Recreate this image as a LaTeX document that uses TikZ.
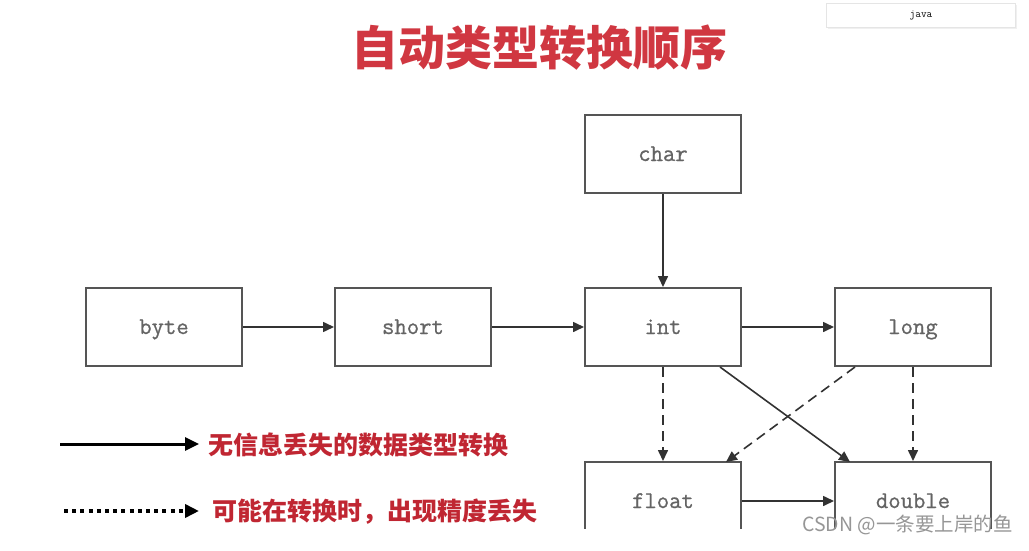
\documentclass[tikz,border=0pt]{standalone}
\usepackage{fontspec}
\newfontfamily\cjk{Noto Sans CJK SC}
\newfontfamily\boxfont[FakeBold=0.8]{Latin Modern Mono}
\usetikzlibrary{arrows.meta}
\definecolor{boxgray}{RGB}{85,85,85}
\definecolor{linegray}{RGB}{50,50,50}
\definecolor{textgray}{RGB}{100,100,100}
\definecolor{titlered}{RGB}{208,55,65}
\definecolor{legred}{RGB}{192,38,50}
\definecolor{wmgray}{RGB}{150,150,150}
\begin{document}
\begin{tikzpicture}[x=1pt,y=-1pt,
  tbox/.style={draw=boxgray, line width=2pt, minimum width=156pt, minimum height=78pt, inner sep=0pt,
    text height=16pt, text depth=2pt,
    font=\fontsize{24}{24}\selectfont\boxfont, text=textgray},
  arr/.style={draw=linegray, line width=1.6pt, -{Triangle[length=11pt,width=10pt]}},
  darr/.style={arr, dash pattern=on 10pt off 6pt},
  legtext/.style={anchor=west, inner sep=0pt, text=legred, font=\cjk\bfseries\fontsize{25}{25}\selectfont},
]
\useasboundingbox (0,0) rectangle (1029,551);
\fill[white] (0,0) rectangle (1029,551);

% top-right tab
\fill[gray!12] (828,5) rectangle (1017,29);
\node[draw=gray!20, fill=white, line width=0.6pt, minimum width=189pt, minimum height=24pt, inner sep=0pt,
  font=\fontsize{11}{11}\selectfont\ttfamily] (java) at (921,15) {java};

% title
\node[text=titlered, font=\cjk\bfseries\fontsize{47}{47}\selectfont, inner sep=0pt] (title) at (539,48) {自动类型转换顺序};

% boxes
\node[tbox] (char) at (663,154) {char};
\node[tbox] (byte) at (164,327) {byte};
\node[tbox] (short) at (413,327) {short};
\node[tbox] (int) at (663,327) {int};
\node[tbox] (long) at (913,327) {long};
\begin{scope}
\clip (0,0) rectangle (1029,528);
\node[tbox] (float) at (663,501) {float};
\node[tbox] (double) at (913,501) {double};
\end{scope}

% connectors
\draw[arr] (char) -- (int);
\draw[arr] (byte) -- (short);
\draw[arr] (short) -- (int);
\draw[arr] (int) -- (long);
\draw[arr] (float) -- (double);
\draw[darr] (int) -- (float);
\draw[darr] (long) -- (double);
\draw[arr] (int.south) ++(57,0) coordinate (ids) -- (850,462) coordinate (ide);
\draw[darr] (long.south) ++(-58,0) coordinate (lfs) -- (726,462) coordinate (lfe);

% legend
\coordinate (l1s) at (60,444);
\coordinate (l1e) at (199,444);
\draw[line width=3pt, -{Triangle[length=14pt,width=13pt]}] (l1s) -- (l1e);
\node[legtext] (leg1) at (208,445) {无信息丢失的数据类型转换};
\coordinate (l2s) at (64,511);
\coordinate (l2e) at (199,511);
\draw[line width=4pt, dash pattern=on 4pt off 4.2pt, -{Triangle[length=14pt,width=13pt]}] (l2s) -- (l2e);
\node[legtext] (leg2) at (212,512) {可能在转换时，出现精度丢失};

% watermark
\node[anchor=west, inner sep=0pt, text=wmgray, font=\cjk\fontsize{19.5}{19.5}\selectfont] (wm) at (802,525) {CSDN @一条要上岸的鱼};
\end{tikzpicture}
\end{document}
